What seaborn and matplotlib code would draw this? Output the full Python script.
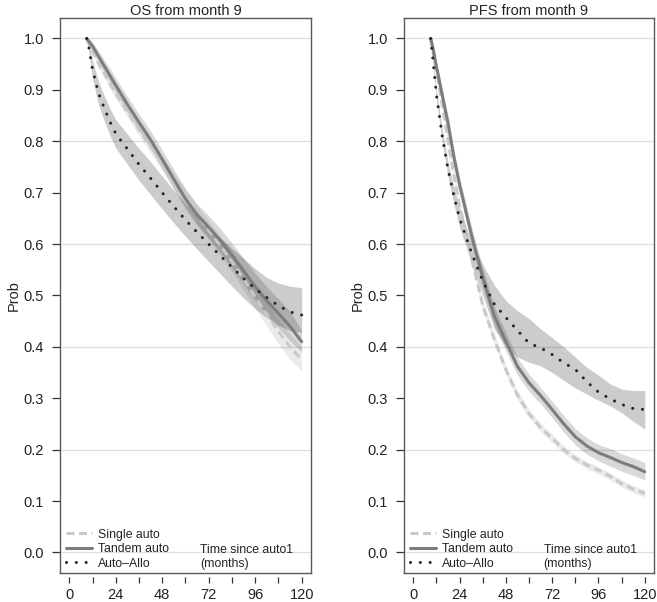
import matplotlib
matplotlib.use("Agg")
import matplotlib.pyplot as plt
import seaborn as sns

# months since auto1
months = [9, 10, 12, 15, 18, 21, 24, 30, 36, 42, 48, 54, 60, 66, 72, 78, 84, 90, 96, 102, 108, 114, 120]

# OS from month 9
os_single = [1.0, .99, .975, .952, .932, .912, .893, .858, .823, .79, .757, .723, .69, .658, .627, .597, .566, .532, .497, .463, .43, .40, .375]
os_single_lo = [1.0, .987, .970, .945, .924, .903, .883, .847, .811, .777, .743, .708, .674, .641, .609, .578, .546, .511, .475, .440, .406, .375, .353]
os_single_hi = [1.0, .993, .980, .959, .940, .921, .903, .869, .835, .803, .771, .738, .706, .675, .645, .616, .586, .553, .519, .486, .454, .425, .400]
os_tandem = [1.0, .995, .985, .966, .947, .928, .909, .872, .837, .803, .765, .726, .688, .657, .633, .607, .578, .548, .517, .49, .465, .44, .41]
os_tandem_lo = [1.0, .99, .977, .956, .935, .915, .895, .857, .821, .786, .747, .707, .668, .636, .611, .584, .554, .523, .491, .463, .437, .411, .39]
os_tandem_hi = [1.0, 1.0, .993, .976, .959, .941, .923, .887, .853, .820, .783, .745, .708, .678, .655, .630, .602, .573, .543, .517, .493, .469, .432]
os_allo = [1.0, .985, .94, .895, .865, .838, .815, .785, .755, .728, .70, .673, .647, .623, .60, .577, .555, .533, .513, .496, .48, .468, .462]
os_allo_lo = [1.0, .975, .922, .872, .840, .811, .787, .755, .724, .696, .668, .641, .615, .59, .566, .542, .518, .495, .474, .457, .442, .432, .428]
os_allo_hi = [1.0, .993, .957, .917, .889, .864, .842, .814, .786, .760, .732, .705, .679, .656, .634, .612, .592, .572, .552, .535, .524, .518, .515]

# PFS from month 9
pfs_single = [1.0, .98, .94, .87, .80, .735, .675, .575, .48, .415, .355, .306, .27, .243, .222, .20, .183, .17, .16, .148, .134, .123, .115]
pfs_single_lo = [1.0, .976, .934, .862, .791, .726, .665, .565, .470, .405, .346, .297, .262, .235, .214, .193, .176, .163, .153, .141, .127, .116, .108]
pfs_single_hi = [1.0, .984, .946, .878, .809, .744, .685, .585, .490, .425, .364, .315, .278, .251, .230, .207, .190, .177, .167, .155, .141, .130, .122]
pfs_tandem = [1.0, .985, .945, .89, .835, .77, .715, .62, .535, .46, .41, .362, .33, .305, .278, .25, .225, .207, .194, .185, .175, .167, .157]
pfs_tandem_lo = [1.0, .979, .936, .878, .821, .755, .699, .603, .517, .442, .392, .345, .313, .289, .262, .234, .209, .191, .178, .168, .158, .150, .141]
pfs_tandem_hi = [1.0, .991, .954, .902, .849, .785, .731, .637, .553, .478, .428, .379, .347, .321, .294, .266, .241, .223, .210, .202, .192, .184, .175]
pfs_allo = [1.0, .965, .89, .81, .745, .695, .65, .585, .528, .483, .457, .432, .407, .398, .385, .369, .356, .332, .312, .299, .288, .28, .278]
pfs_allo_lo = [1.0, .958, .879, .797, .730, .678, .632, .565, .500, .435, .40, .38, .37, .363, .35, .335, .32, .308, .296, .285, .272, .255, .24]
pfs_allo_hi = [1.0, .972, .901, .823, .760, .712, .668, .608, .560, .520, .49, .47, .455, .435, .418, .40, .38, .36, .345, .328, .318, .315, .315]

labels = ["Single auto", "Tandem auto", "Auto\u2013Allo"]
yticks = [0.0, 0.1, 0.2, 0.3, 0.4, 0.5, 0.6, 0.7, 0.8, 0.9, 1.0]
grid_levels = [0.0, 0.2, 0.4, 0.6, 0.8, 1.0]
xticks = [0, 12, 24, 36, 48, 60, 72, 84, 96, 108, 120]
xticklabels = ["0", "", "24", "", "48", "", "72", "", "96", "", "120"]

sns.set_style("white")
plt.rcParams["font.family"] = ["Liberation Sans", "DejaVu Sans"]
plt.rcParams["font.size"] = 10.5
plt.rcParams["text.color"] = "#222222"

line_kw = [
    dict(color="#c9c9c9", linestyle=(0, (2.6, 1.5)), zorder=3),
    dict(color="#7d7d7d", linestyle="-", zorder=4),
    dict(color="#262626", linestyle=(0, (0.01, 3.2)), dash_capstyle="round", zorder=5),
]
band_alpha = [0.08, 0.15, 0.2]


def panel(ax, title, series):
    for g in grid_levels:
        ax.axhline(g, color="#dedede", lw=0.9, zorder=0)
    for (vals, lo, hi), a in zip(series, band_alpha):
        ax.fill_between(months, lo, hi, color="black", alpha=a, linewidth=0, zorder=1)
    handles = []
    for (vals, lo, hi), kw, lab in zip(series, line_kw, labels):
        sns.lineplot(x=months, y=vals, ax=ax, linewidth=2.2, errorbar=None, sort=False, **kw)
        line = ax.lines[-1]
        line.set_label(lab)
        handles.append(line)

    ax.set_xlim(-4.8, 124.8)
    ax.set_ylim(-0.04, 1.04)
    ax.set_yticks(yticks, labels=[f"{v:.1f}" for v in yticks])
    ax.tick_params(axis="y", direction="out", length=6, width=0.9, color="#333333",
                   pad=5.5, labelsize=10.5, labelcolor="#222222", left=True)
    ax.tick_params(axis="x", bottom=False, labelbottom=False)
    for s in ax.spines.values():
        s.set_color("#5a5a5a")
        s.set_linewidth(1.0)
        s.set_visible(True)

    sec = ax.secondary_xaxis(-0.0075)
    sec.set_xticks(xticks, labels=xticklabels)
    for s in sec.spines.values():
        s.set_visible(False)
    sec.tick_params(direction="out", length=4.5, width=0.9, color="#333333",
                    pad=3.5, labelsize=10.5, labelcolor="#222222")

    ax.set_title(title, fontsize=10.5, pad=1, color="#222222")
    ax.set_ylabel("Prob", fontsize=10.5, color="#222222")
    ax.yaxis.set_label_coords(-0.157, 0.5)
    ax.set_xlabel("")

    ax.legend(handles=handles, loc="lower left", bbox_to_anchor=(0.024, 0.006),
              frameon=False, handlelength=2.1, handletextpad=0.5,
              labelspacing=0.2, borderaxespad=0, borderpad=0, fontsize=8.8)
    ax.text(0.558, 0.005, "Time since auto1\n(months)", transform=ax.transAxes,
            ha="left", va="bottom", fontsize=8.8, linespacing=1.2)


fig = plt.figure(figsize=(6.57, 6.02), dpi=100)
ax_os = fig.add_axes([0.0913, 0.0482, 0.382, 0.922])
ax_pfs = fig.add_axes([0.615, 0.0482, 0.3805, 0.922])

panel(ax_os, "OS from month 9", [
    (os_single, os_single_lo, os_single_hi),
    (os_tandem, os_tandem_lo, os_tandem_hi),
    (os_allo, os_allo_lo, os_allo_hi),
])
panel(ax_pfs, "PFS from month 9", [
    (pfs_single, pfs_single_lo, pfs_single_hi),
    (pfs_tandem, pfs_tandem_lo, pfs_tandem_hi),
    (pfs_allo, pfs_allo_lo, pfs_allo_hi),
])

fig.savefig("out.png", dpi=100)
